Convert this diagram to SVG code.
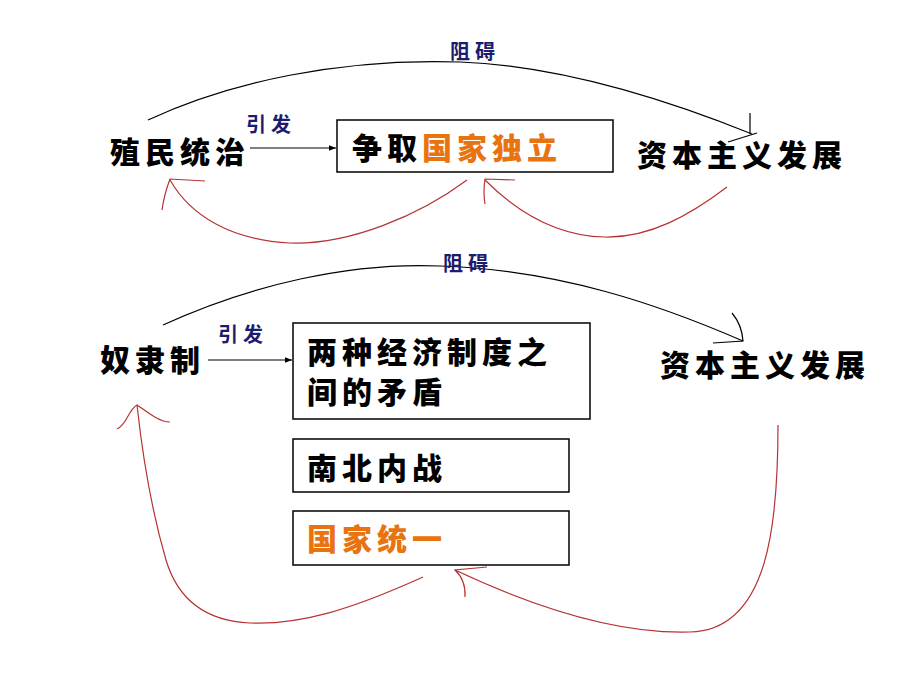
<svg xmlns="http://www.w3.org/2000/svg" width="920" height="690" viewBox="0 0 920 690">
<defs>
<marker id="ah" viewBox="0 0 10 10" refX="10" refY="5" markerWidth="7" markerHeight="7" markerUnits="userSpaceOnUse" orient="auto">
<path d="M0,1 L10,5 L0,9 z" fill="#000"/>
</marker>
</defs>
<style>
.main{font-family:"Noto Sans CJK SC","Noto Sans CJK TC",sans-serif;font-weight:900;font-size:30px;letter-spacing:5px;fill:#000}
.org{fill:#e8730f}
.lbl{font-family:"Noto Sans CJK SC",sans-serif;font-weight:bold;font-size:20px;letter-spacing:5px;fill:#1c1c6e}
.box{fill:#fff;stroke:#000;stroke-width:1.5}
.blk{fill:none;stroke:#000;stroke-width:1.2}
.red{fill:none;stroke:#b83232;stroke-width:1.2}
</style>
<rect width="920" height="690" fill="#fff"/>

<g id="connectors">
  <!-- top section -->
  <path class="blk" d="M148,120 C230,82 340,58 460,62 C570,66 680,105 752,134"/>
  <path class="blk" d="M750,113 L750,134 M728,142 L757,133"/>
  <line class="blk" x1="250" y1="148" x2="336" y2="148" marker-end="url(#ah)"/>
  <path class="red" d="M467,180 C420,215 350,245 290,243 C230,240 190,215 170,180"/>
  <path class="red" d="M205,181 L170,179 Q164,195 162,210"/>
  <path class="red" d="M727,187 C690,215 650,238 605,237 C560,236 520,215 485,180"/>
  <path class="red" d="M515,180 L485,179 Q483,192 485,204"/>
  <!-- bottom section -->
  <path class="blk" d="M163,325 C250,285 350,262 440,266 C560,270 660,305 743,341"/>
  <path class="blk" d="M732,313 Q742,325 743,341 L713,343"/>
  <line class="blk" x1="208" y1="360" x2="292" y2="360" marker-end="url(#ah)"/>
  <path class="red" d="M423,577 C350,610 300,625 250,623 C205,621 178,600 166,560 C152,512 143,460 137,405"/>
  <path class="red" d="M117,429 C127,425 128,410 137,405 C145,410 158,422 170,422"/>
  <path class="red" d="M778,425 C778,520 770,630 690,632 C620,634 540,610 455,570"/>
  <path class="red" d="M487,567 L455,570 Q466,580 465,597"/>
  <text class="lbl" x="450" y="59">阻碍</text>
  <text class="lbl" x="246" y="132">引发</text>
  <text class="lbl" x="443" y="271">阻碍</text>
  <text class="lbl" x="218" y="342">引发</text>
</g>

<g id="colonial-rule">
  <text class="main" x="110" y="163">殖民统治</text>
</g>
<g id="independence">
  <rect class="box" x="337" y="120" width="276" height="52"/>
  <text class="main" x="352" y="159">争取<tspan class="org">国家独立</tspan></text>
</g>
<g id="capitalism-top">
  <text class="main" x="637" y="166">资本主义发展</text>
</g>

<g id="slavery">
  <text class="main" x="100" y="371">奴隶制</text>
</g>
<g id="contradiction">
  <rect class="box" x="293" y="323" width="297" height="96"/>
  <text class="main" x="307" y="363">两种经济制度之</text>
  <text class="main" x="307" y="403">间的矛盾</text>
</g>
<g id="civil-war">
  <rect class="box" x="293" y="439" width="276" height="53"/>
  <text class="main" x="307" y="479">南北内战</text>
</g>
<g id="unification">
  <rect class="box" x="293" y="511" width="276" height="54"/>
  <text class="main org" x="307" y="550">国家统一</text>
</g>
<g id="capitalism-bottom">
  <text class="main" x="660" y="376">资本主义发展</text>
</g>
</svg>
